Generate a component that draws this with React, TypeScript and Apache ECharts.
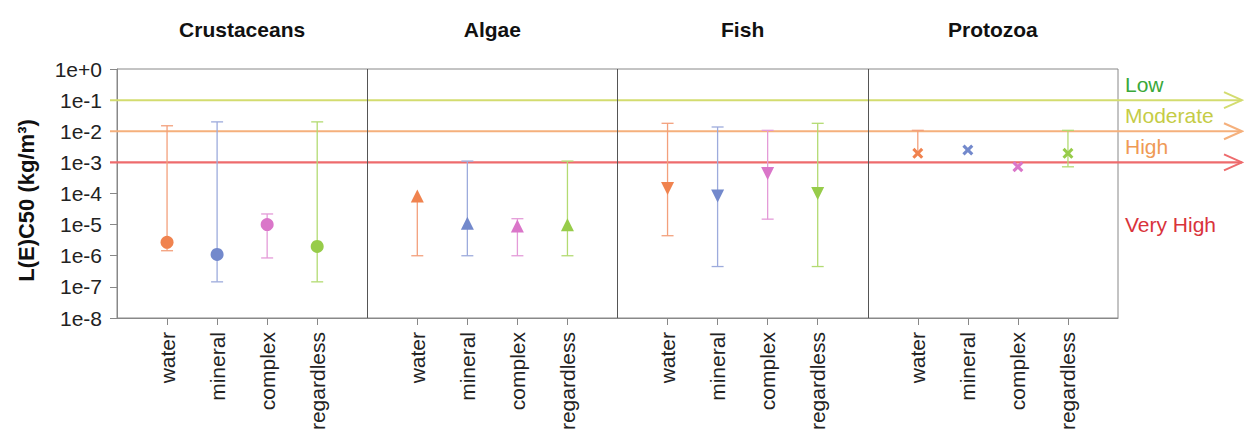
import React, { useEffect, useRef } from "react";
import * as echarts from "echarts";

// ---------- data ----------
const panels = ["Crustaceans", "Algae", "Fish", "Protozoa"];
const categories = ["water", "mineral", "complex", "regardless"];
const yTickLabels = ["1e+0", "1e-1", "1e-2", "1e-3", "1e-4", "1e-5", "1e-6", "1e-7", "1e-8"];

const crustMedian = [2.7e-6, 1.1e-6, 1.0e-5, 2.0e-6];
const crustLow = [1.45e-6, 1.45e-7, 8.5e-7, 1.45e-7];
const crustHigh = [1.5e-2, 2.0e-2, 2.2e-5, 2.0e-2];

const algaeMedian = [8.3e-5, 1.1e-5, 9.0e-6, 1.0e-5];
const algaeLow = [1.0e-6, 1.0e-6, 1.0e-6, 1.0e-6];
const algaeHigh = [8.3e-5, 1.1e-3, 1.55e-5, 1.1e-3];

const fishMedian = [1.45e-4, 8.3e-5, 4.4e-4, 1.0e-4];
const fishLow = [4.4e-6, 4.5e-7, 1.5e-5, 4.5e-7];
const fishHigh = [1.8e-2, 1.37e-2, 1.07e-2, 1.8e-2];

const protoMedian = [1.95e-3, 2.5e-3, 7.2e-4, 1.95e-3];
const protoLow = [1.95e-3, 2.5e-3, 7.2e-4, 7.2e-4];
const protoHigh = [1.07e-2, 2.5e-3, 7.2e-4, 1.07e-2];

const thresholdValues = [0.1, 0.01, 0.001];
const thresholdLabels = ["Low", "Moderate", "High", "Very High"];
const thresholdLabelLevels = [Math.pow(10, -0.5), Math.pow(10, -1.5), Math.pow(10, -2.5), 1e-5];

// ---------- styles ----------
const FONT = "Liberation Sans, Arial, sans-serif";
const markerColors = ["#f0834f", "#7389cc", "#da76c9", "#97cc4a"];
const barColors = ["#f3a07c", "#9dabdc", "#e49bd8", "#b3db72"];
const panelSymbols = [
  "circle",
  "triangle",
  "triangle",
  "path://M2,0L5,3L8,0L10,2L7,5L10,8L8,10L5,7L2,10L0,8L3,5L0,2Z",
];
const panelRotate = [0, 0, 180, 0];
const panelSizes = [13, 13, 13, 11];
const thresholdLineColors = ["#d3dc6f", "#f5b07c", "#ee6b6d"];
const thresholdTextColors = ["#3aa83a", "#c5cc45", "#ef9a55", "#d9333b"];

const medians = [crustMedian, algaeMedian, fishMedian, protoMedian];
const lows = [crustLow, algaeLow, fishLow, protoLow];
const highs = [crustHigh, algaeHigh, fishHigh, protoHigh];

const xOf = (p: number, c: number) => p * 5 + c + 1;
const tickPositions: number[] = [];
panels.forEach((_, p) => categories.forEach((__, c) => tickPositions.push(xOf(p, c))));
const panelCenters = panels.map((_, p) => p * 5 + 2.5);

export default function App() {
  const ref = useRef<HTMLDivElement>(null);

  useEffect(() => {
    if (!ref.current) return;
    const chart = echarts.init(ref.current, null, { renderer: "svg" });

    const scatterSeries = categories.map((cat, c) => ({
      type: "scatter",
      name: cat,
      z: 4,
      itemStyle: { color: markerColors[c], opacity: 1 },
      data: panels.map((_, p) => ({
        value: [xOf(p, c), medians[p][c]],
        symbol: panelSymbols[p],
        symbolRotate: panelRotate[p],
        symbolSize: panelSizes[p],
      })),
    }));

    const errorSeries = categories.map((cat, c) => ({
      type: "custom",
      name: cat + " range",
      z: 3,
      encode: { x: 0, y: [1, 2] },
      data: panels.map((_, p) => [xOf(p, c), lows[p][c], highs[p][c], medians[p][c]]),
      renderItem: (params: any, api: any) => {
        const x = api.value(0);
        const lo = api.value(1);
        const hi = api.value(2);
        const md = api.value(3);
        if (lo === hi) return { type: "group", children: [] };
        const pLo = api.coord([x, lo]);
        const pHi = api.coord([x, hi]);
        const style = { stroke: barColors[c], lineWidth: 1.3 };
        const children: any[] = [
          { type: "line", shape: { x1: pLo[0], y1: pLo[1], x2: pHi[0], y2: pHi[1] }, style },
        ];
        if (hi > md * 1.001)
          children.push({ type: "line", shape: { x1: pHi[0] - 6, y1: pHi[1], x2: pHi[0] + 6, y2: pHi[1] }, style });
        if (lo < md * 0.999)
          children.push({ type: "line", shape: { x1: pLo[0] - 6, y1: pLo[1], x2: pLo[0] + 6, y2: pLo[1] }, style });
        return { type: "group", children };
      },
      ...(c === 0
        ? {
            markLine: {
              silent: true,
              symbol: ["none", "none"],
              label: { show: false },
              lineStyle: { color: "#555", width: 1, type: "solid" },
              data: [{ xAxis: 5 }, { xAxis: 10 }, { xAxis: 15 }],
            },
          }
        : {}),
    }));

    chart.setOption({
      animation: false,
      textStyle: { fontFamily: FONT },
      grid: {
        left: 117,
        right: 126,
        top: 69,
        bottom: 117,
        show: true,
        borderColor: "#888",
        borderWidth: 1,
        containLabel: false,
        outerBoundsMode: "none",
      },
      xAxis: [
        {
          type: "value",
          position: "bottom",
          min: 0,
          max: 20,
          interval: 1,
          splitLine: { show: false },
          axisLine: { show: true, lineStyle: { color: "#888" } },
          axisTick: { show: true, length: 7, lineStyle: { color: "#888" }, customValues: tickPositions },
          axisLabel: {
            customValues: tickPositions,
            rotate: 90,
            margin: 14,
            fontSize: 21,
            color: "#222",
            fontFamily: FONT,
            formatter: (v: number) => {
              const c = Math.round(v) % 5;
              return c >= 1 && c <= 4 ? categories[c - 1] : "";
            },
          },
        },
        {
          type: "value",
          position: "top",
          min: 0,
          max: 20,
          splitLine: { show: false },
          axisLine: { show: false },
          axisTick: { show: false },
          axisLabel: {
            customValues: panelCenters,
            margin: 29,
            fontSize: 21,
            fontWeight: "bold",
            color: "#111",
            fontFamily: FONT,
            formatter: (v: number) => panels[Math.floor(v / 5)] ?? "",
          },
        },
      ],
      yAxis: {
        type: "log",
        logBase: 10,
        min: 1e-8,
        max: 1,
        splitLine: { show: false },
        axisLine: { show: true, lineStyle: { color: "#888" } },
        axisTick: { show: true, length: 7, lineStyle: { color: "#888" } },
        axisLabel: {
          fontSize: 21,
          color: "#222",
          margin: 15,
          fontFamily: FONT,
          formatter: (v: number) => {
            const e = Math.round(-Math.log10(v));
            return yTickLabels[e] ?? "";
          },
        },
        name: "L(E)C50 (kg/m³)",
        nameLocation: "middle",
        nameGap: 80,
        nameTextStyle: {
          fontSize: 22,
          fontWeight: "bold",
          color: "#111",
          fontFamily: FONT,
          padding: [0, 14, 0, 0],
        },
      },
      series: [...errorSeries, ...scatterSeries],
    });

    // threshold lines, arrows and labels, positioned through the axis scale
    const x0 = chart.convertToPixel({ xAxisIndex: 0 }, 0) as number;
    const x1 = chart.convertToPixel({ xAxisIndex: 0 }, 20) as number;
    const xEnd = 1242;
    const graphics: any[] = [];
    thresholdValues.forEach((v, i) => {
      const y = chart.convertToPixel({ yAxisIndex: 0 }, v) as number;
      graphics.push({
        type: "line",
        z: 2,
        shape: { x1: x0 - 7, y1: y, x2: xEnd, y2: y },
        style: { stroke: thresholdLineColors[i], lineWidth: i === 2 ? 2.4 : 2 },
      });
      graphics.push({
        type: "polyline",
        z: 2,
        shape: { points: [[xEnd - 18, y - 8], [xEnd, y], [xEnd - 18, y + 8]] },
        style: { stroke: thresholdLineColors[i], lineWidth: 2, fill: "none" },
      });
    });
    thresholdLabels.forEach((t, i) => {
      const y = chart.convertToPixel({ yAxisIndex: 0 }, thresholdLabelLevels[i]) as number;
      graphics.push({
        type: "text",
        z: 5,
        x: x1 + 7,
        y,
        style: {
          text: t,
          fill: thresholdTextColors[i],
          fontSize: 21,
          fontFamily: FONT,
          verticalAlign: "middle",
          align: "left",
        },
      });
    });
    chart.setOption({ graphic: graphics });

    return () => chart.dispose();
  }, []);

  return (
    <div
      ref={ref}
      style={{ position: "fixed", left: 0, top: 0, width: 1244, height: 435, background: "#fff" }}
    />
  );
}
